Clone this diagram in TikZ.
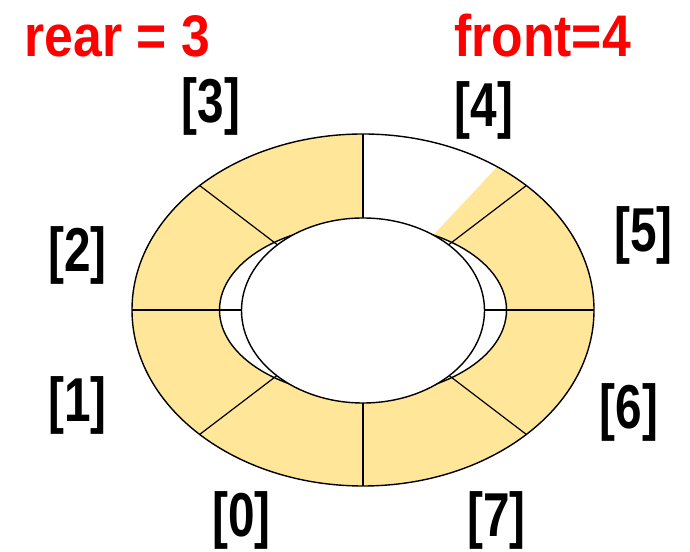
\documentclass[tikz,border=0pt]{standalone}
\usepackage{fontspec}
\newfontfamily\redfont[FakeStretch=0.88]{Liberation Sans}
\newfontfamily\idxfont[FakeStretch=0.77]{Liberation Sans}
\definecolor{qyellow}{HTML}{FFE699}
\definecolor{qred}{HTML}{FF0000}
\begin{document}
\begin{tikzpicture}[x=1pt,y=1pt,
  idx/.style={anchor=base, inner sep=0pt, font=\idxfont\bfseries\fontsize{62}{62}\selectfont},
  ttl/.style={anchor=base, inner sep=0pt, text=qred, font=\redfont\bfseries\fontsize{58.7}{60}\selectfont},
  divider/.style={line width=1.2pt, draw=black},
  rim/.style={line width=1.4pt, draw=black}]
\useasboundingbox (0,0) rectangle (690,551);
\coordinate (C) at (363,241);
% ring
\fill[qyellow] (C) ellipse [x radius=231pt, y radius=176pt];
\fill[white] (C) -- ++(54.5:231pt and 176pt)
  arc[start angle=54.5, end angle=90, x radius=231pt, y radius=176pt] -- cycle;
% wide inner ellipse
\path[rim, fill=white] (C) ellipse [x radius=143.5pt, y radius=86pt];
% dividers
\foreach \a in {0,45,...,315}
  \draw[divider] (C) -- ++(\a:231pt and 176pt);
% tall inner ellipse
\path[rim, fill=white] ([yshift=-0.5pt]C) ellipse [x radius=121.5pt, y radius=92.5pt];
% outer rim
\draw[rim] (C) ellipse [x radius=231pt, y radius=176pt];
% titles
\node[ttl] (rear) at (117.5,494) {rear = 3};
\node[ttl] (front) at (542.5,494) {front=4};
% indices
\node[idx] (i3) at (211,428) {[3]};
\node[idx] (i4) at (484,424) {[4]};
\node[idx] (i2) at (77.5,279) {[2]};
\node[idx] (i1) at (77.5,129) {[1]};
\node[idx] (i5) at (643.5,299) {[5]};
\node[idx] (i6) at (629,122) {[6]};
\node[idx] (i0) at (241.5,14) {[0]};
\node[idx] (i7) at (496.5,14) {[7]};
\end{tikzpicture}
\end{document}
